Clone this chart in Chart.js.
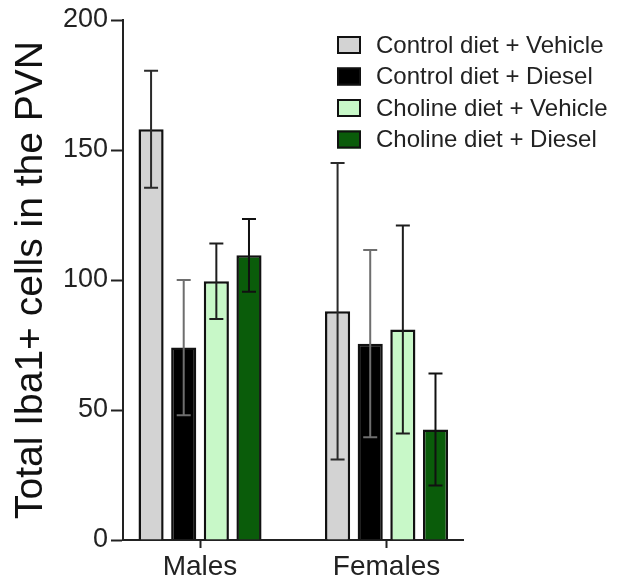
<!DOCTYPE html>
<html>
<head>
<meta charset="utf-8">
<title>Total Iba1+ cells in the PVN</title>
<script src="https://cdn.jsdelivr.net/npm/chart.js@4/dist/chart.umd.min.js"></script>
<style>
  html, body { margin: 0; padding: 0; background: #ffffff; }
  #wrap { width: 618px; height: 583px; }
</style>
</head>
<body>
<div id="wrap"><canvas id="chart" width="618" height="583"></canvas></div>
<script>
// Groups along the x axis
const groups = ['Males', 'Females'];

// Treatment series
const seriesNames = [
  'Control diet + Vehicle',
  'Control diet + Diesel',
  'Choline diet + Vehicle',
  'Choline diet + Diesel'
];

// Mean cell counts per series, ordered [Males, Females]
const controlVehicle = [158, 88];
const controlDiesel  = [74, 75.5];
const cholineVehicle = [99.5, 81];
const cholineDiesel  = [109.5, 42.5];

// Error (± SEM/SD) per series, ordered [Males, Females]
const controlVehicleErr = [22.5, 57];
const controlDieselErr  = [26, 36];
const cholineVehicleErr = [14.5, 40];
const cholineDieselErr  = [14, 21.5];

// Y axis tick values
const yTicks = [0, 50, 100, 150, 200];

const FONT = "'Liberation Sans', Arial, Helvetica, sans-serif";
const fills    = ['#d3d3d3', '#000000', '#c8f8c8', '#0a5c0a'];
const whiskers = ['#2a2a2a', '#6e6e6e', '#1e1e1e', '#111111'];

const means = [controlVehicle, controlDiesel, cholineVehicle, cholineDiesel];
const errs  = [controlVehicleErr, controlDieselErr, cholineVehicleErr, cholineDieselErr];

const datasets = seriesNames.map((name, s) => ({
  label: name,
  data: groups.map((g, i) => ({ x: i, y: means[s][i] })),
  errors: errs[s],
  backgroundColor: fills[s],
  borderColor: '#111111',
  borderWidth: 2.5,
  borderSkipped: 'start',
  whiskerColor: whiskers[s],
  categoryPercentage: 0.70,
  barPercentage: 0.77
}));

// Draws the ± error whiskers with caps on each bar
const errorBars = {
  id: 'errorBars',
  afterDatasetsDraw(chart) {
    const ctx = chart.ctx;
    const y = chart.scales.y;
    chart.data.datasets.forEach((ds, di) => {
      const meta = chart.getDatasetMeta(di);
      meta.data.forEach((bar, i) => {
        const v = ds.data[i].y, e = ds.errors[i];
        const yHi = y.getPixelForValue(v + e);
        const yLo = y.getPixelForValue(v - e);
        const cap = 7;
        ctx.save();
        ctx.strokeStyle = ds.whiskerColor;
        ctx.lineWidth = 2;
        ctx.beginPath();
        ctx.moveTo(bar.x, yHi); ctx.lineTo(bar.x, yLo);
        ctx.moveTo(bar.x - cap, yHi); ctx.lineTo(bar.x + cap, yHi);
        ctx.moveTo(bar.x - cap, yLo); ctx.lineTo(bar.x + cap, yLo);
        ctx.stroke();
        ctx.restore();
      });
    });
  }
};

// Legend block at the upper right, swatches with black outlines
const sideLegend = {
  id: 'sideLegend',
  afterDraw(chart) {
    const ctx = chart.ctx;
    const x0 = 337, boxW = 24, boxH = 18, textX = 376;
    const rows = [45, 76.5, 108, 139.5];
    ctx.save();
    ctx.font = '24px ' + FONT;
    ctx.textBaseline = 'middle';
    ctx.textAlign = 'left';
    chart.data.datasets.forEach((ds, i) => {
      const cy = rows[i];
      ctx.fillStyle = ds.backgroundColor;
      ctx.fillRect(x0, cy - boxH / 2, boxW, boxH);
      ctx.strokeStyle = '#111111';
      ctx.lineWidth = 2;
      ctx.strokeRect(x0 + 1, cy - boxH / 2 + 1, boxW - 2, boxH - 2);
      ctx.fillStyle = '#222222';
      ctx.fillText(ds.label, textX, cy + 1);
    });
    ctx.restore();
  }
};

new Chart(document.getElementById('chart'), {
  type: 'bar',
  data: { datasets },
  options: {
    responsive: false,
    animation: false,
    devicePixelRatio: 1,
    layout: { padding: { top: 20, right: 155, bottom: 0, left: 0 } },
    plugins: {
      legend: { display: false },
      tooltip: { enabled: false }
    },
    scales: {
      x: {
        type: 'linear',
        offset: false,
        min: -0.413,
        max: 1.41,
        afterBuildTicks(scale) {
          scale.ticks = groups.map((g, i) => ({ value: i }));
        },
        afterFit(scale) { scale.height = 43; },
        grid: {
          offset: false,
          drawOnChartArea: false,
          drawTicks: true,
          tickLength: 8,
          tickWidth: 2,
          color: '#222222'
        },
        border: { color: '#222222', width: 2 },
        ticks: {
          callback: (v) => groups[v] !== undefined ? groups[v] : '',
          font: { family: FONT, size: 28 },
          color: '#222222',
          maxRotation: 0,
          padding: 2
        }
      },
      y: {
        min: 0,
        max: 200,
        afterBuildTicks(scale) {
          scale.ticks = yTicks.map(v => ({ value: v }));
        },
        afterFit(scale) { scale.width = 123; },
        grid: {
          drawOnChartArea: false,
          drawTicks: true,
          tickLength: 12,
          tickWidth: 2,
          color: '#222222'
        },
        border: { color: '#222222', width: 2 },
        ticks: {
          font: { family: FONT, size: 27 },
          color: '#222222',
          padding: 3
        },
        title: {
          display: true,
          text: 'Total Iba1+ cells in the PVN',
          font: { family: FONT, size: 39, lineHeight: 1.2 },
          color: '#111111',
          padding: { top: 8, bottom: 0 }
        }
      }
    }
  },
  plugins: [errorBars, sideLegend]
});
</script>
</body>
</html>
